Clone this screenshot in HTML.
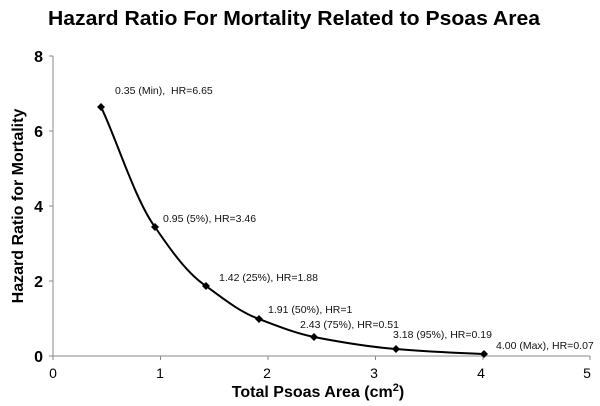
<!DOCTYPE html>
<html><head><style>body{margin:0;background:#fff}svg{display:block}</style></head><body>
<svg width="600" height="406" xmlns="http://www.w3.org/2000/svg" font-family="Liberation Sans, Arial, sans-serif">
<text x="48" y="25" font-size="20" font-weight="bold" textLength="492" lengthAdjust="spacingAndGlyphs">Hazard Ratio For Mortality Related to Psoas Area</text>
<g stroke="#888" stroke-width="1" fill="none">
<line x1="53" y1="56" x2="53" y2="356"/>
<line x1="53" y1="356" x2="590" y2="356"/>
<line x1="49" y1="56" x2="53" y2="56"/><line x1="49" y1="131" x2="53" y2="131"/><line x1="49" y1="206" x2="53" y2="206"/><line x1="49" y1="281" x2="53" y2="281"/><line x1="49" y1="356" x2="53" y2="356"/>
<line x1="53" y1="356" x2="53" y2="360"/><line x1="160.5" y1="356" x2="160.5" y2="360"/><line x1="268" y1="356" x2="268" y2="360"/><line x1="375.5" y1="356" x2="375.5" y2="360"/><line x1="483" y1="356" x2="483" y2="360"/><line x1="590" y1="356" x2="590" y2="360"/>
</g>
<g font-size="16" font-weight="bold" text-anchor="end">
<text x="43" y="62">8</text><text x="43" y="137">6</text><text x="43" y="212">4</text><text x="43" y="287">2</text><text x="43" y="362">0</text>
</g>
<g font-size="14" text-anchor="middle">
<text x="53" y="378">0</text><text x="160" y="378">1</text><text x="267" y="378">2</text><text x="374" y="378">3</text><text x="481" y="378">4</text><text x="587" y="378">5</text>
</g>
<text x="318" y="397" text-anchor="middle" font-size="16" font-weight="bold">Total Psoas Area (cm<tspan font-size="11" dy="-6">2</tspan><tspan dy="6">)</tspan></text>
<text transform="translate(23,206) rotate(-90)" text-anchor="middle" font-size="16" font-weight="bold">Hazard Ratio for Mortality</text>
<path d="M101,107 C115,135 135,200 155,227 C172,252 188,274 206,286 C225,300 240,312 259,319 C280,327 295,333 314,337 C345,343 370,347 396,349 C430,352 460,353 484,354" stroke="#000" stroke-width="2" fill="none"/>
<g fill="#000">
<path d="M101,103 l4,4 l-4,4 l-4,-4z"/><path d="M155,223 l4,4 l-4,4 l-4,-4z"/><path d="M206,282 l4,4 l-4,4 l-4,-4z"/><path d="M259,315 l4,4 l-4,4 l-4,-4z"/><path d="M314,333 l4,4 l-4,4 l-4,-4z"/><path d="M396,345 l4,4 l-4,4 l-4,-4z"/><path d="M484,350 l4,4 l-4,4 l-4,-4z"/>
</g>
<g font-size="10.5" fill="#111">
<text x="115" y="94" xml:space="preserve">0.35 (Min),  HR=6.65</text>
<text x="163" y="222">0.95 (5%), HR=3.46</text>
<text x="219" y="281">1.42 (25%), HR=1.88</text>
<text x="268" y="313">1.91 (50%), HR=1</text>
<text x="300" y="328">2.43 (75%), HR=0.51</text>
<text x="393" y="338">3.18 (95%), HR=0.19</text>
<text x="496" y="349">4.00 (Max), HR=0.07</text>
</g>
</svg>
</body></html>
